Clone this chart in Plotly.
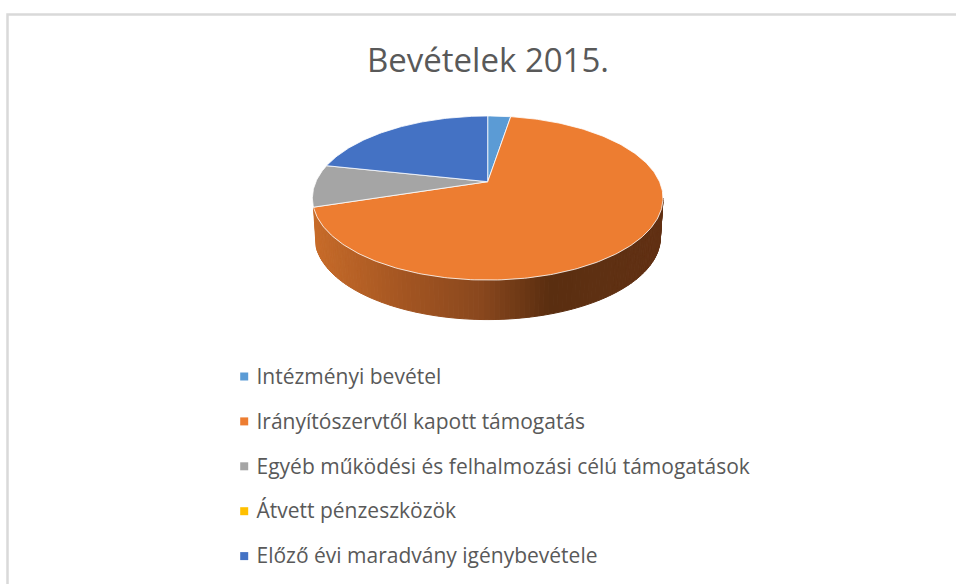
import numpy as np
import plotly.graph_objects as go

TITLE = "Bevételek 2015."
CATEGORIES = ["Intézményi bevétel", "Irányítószervtől kapott támogatás",
              "Egyéb működési és felhalmozási célú támogatások",
              "Átvett pénzeszközök", "Előző évi maradvány igénybevétele"]
VALUES = [2.56, 67.5, 8.3, 0.0, 21.6]
COLORS = ["#5B9BD5", "#ED7D31", "#A5A5A5", "#FFC000", "#4472C4"]

W, H = 956, 584
CX, CY = 487.7, 181.7      # pie centre on the picture
A, B, K = 78.8, 171.8, 0.199  # perspective of the tilted disc
DEPTH, SHRINK = 39.5, 0.985
FONT = "Open Sans"
GRAD_X = [312, 400, 480, 550, 590, 663]
GRAD_R = [200, 165, 138, 90, 94, 98]
GRAD_G = [108, 86, 72, 46, 48, 49]
GRAD_B = [42, 34, 30, 16, 18, 20]
KEY_X, LABEL_X, KEY_Y0, KEY_STEP = 244.2, 256.5, 376.5, 44.9


def project(theta):
    x, y = np.sin(theta), np.cos(theta)
    w = 1 + K * y
    return CX + B * x / w, CY - A * y / w


fig = go.Figure()
fracs = np.array(VALUES) / sum(VALUES)
edges = np.concatenate([[0], np.cumsum(fracs)]) * 2 * np.pi

# side wall of the disc: widest point on the right to the end of the big slice, shaded left to right
th = np.linspace(np.pi / 2 + 0.2, edges[2], 111)
rx, ry = project(th)
bx, by = CX + SHRINK * (rx - CX), ry + DEPTH
for i in range(len(th) - 1):
    xs = [rx[i], rx[i + 1], bx[i + 1], bx[i], rx[i]]
    ys = [ry[i], ry[i + 1], by[i + 1], by[i], ry[i]]
    mx = (rx[i] + rx[i + 1]) / 2
    col = "rgb(%d,%d,%d)" % (np.interp(mx, GRAD_X, GRAD_R), np.interp(mx, GRAD_X, GRAD_G), np.interp(mx, GRAD_X, GRAD_B))
    fig.add_trace(go.Scatter(x=xs, y=ys, mode="lines", fill="toself", fillcolor=col,
                             line=dict(color=col, width=1), showlegend=False, hoverinfo="skip"))

# top face slices
for i, v in enumerate(VALUES):
    if v > 0:
        t = np.linspace(edges[i], edges[i + 1], max(3, int(v * 4)))
        px, py = project(t)
        fig.add_trace(go.Scatter(x=np.r_[CX, px, CX], y=np.r_[CY, py, CY], mode="lines", fill="toself",
                                 fillcolor=COLORS[i], line=dict(color="rgba(255,255,255,0.8)", width=1),
                                 showlegend=False, name=CATEGORIES[i]))

# key: square swatch plus label for every category
for i, c in enumerate(CATEGORIES):
    y = KEY_Y0 + i * KEY_STEP
    fig.add_trace(go.Scatter(x=[KEY_X], y=[y], mode="markers", name=c, showlegend=False,
                             marker=dict(symbol="square", size=8, color=COLORS[i])))
    fig.add_trace(go.Scatter(x=[LABEL_X], y=[y + 2], mode="text", text=[c], textposition="middle right",
                             textfont=dict(family=FONT, size=21, color="#595959"),
                             showlegend=False, hoverinfo="skip"))

fig.update_layout(
    width=W, height=H, margin=dict(l=0, r=0, t=0, b=0), autosize=False, showlegend=False,
    paper_bgcolor="white", plot_bgcolor="white",
    title=dict(text=TITLE, x=488 / W, xanchor="center", y=1 - 60 / H, yanchor="middle",
               font=dict(family=FONT, size=33, color="#595959")),
    xaxis=dict(range=[0, W], visible=False, fixedrange=True),
    yaxis=dict(range=[H, 0], visible=False, fixedrange=True),
    shapes=[dict(type="rect", xref="x", yref="y", x0=7.5, y0=14.5, x1=W + 20, y1=H + 20,
                 line=dict(color="#D9D9D9", width=2.5), fillcolor="rgba(0,0,0,0)", layer="below")],
)
fig.write_html("out.html", config=dict(displayModeBar=False),
               post_script="document.body.style.margin='0';")
